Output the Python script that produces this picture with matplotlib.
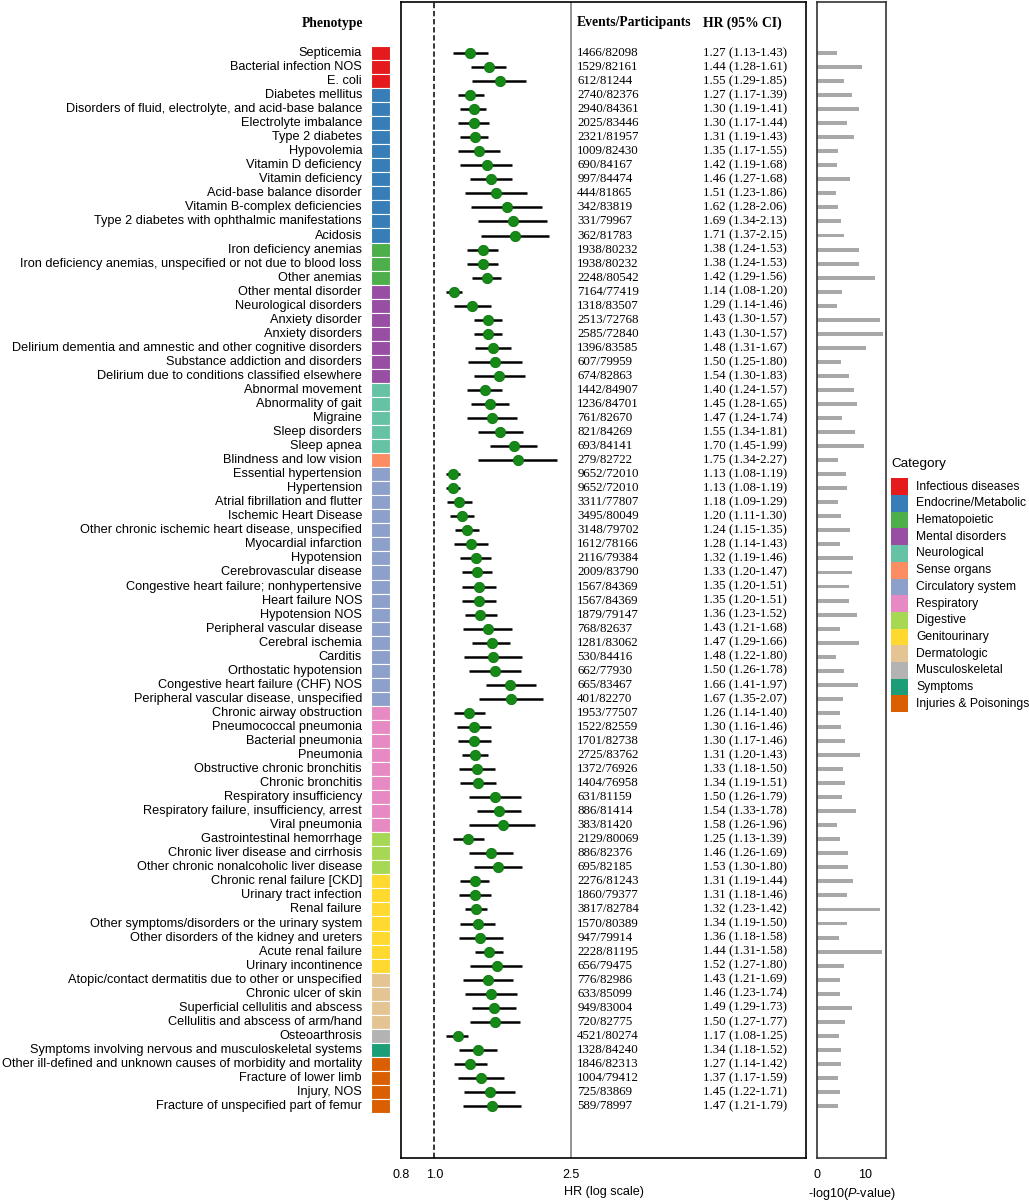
import matplotlib
matplotlib.use('Agg')
import matplotlib.pyplot as plt
import matplotlib.transforms as mtrans
from matplotlib.patches import Rectangle
from matplotlib.ticker import NullLocator
import numpy as np

plt.rcParams['font.family'] = ['Liberation Sans', 'DejaVu Sans']
plt.rcParams['mathtext.fontset'] = 'custom'
plt.rcParams['mathtext.it'] = 'Liberation Sans:italic'
plt.rcParams['mathtext.rm'] = 'Liberation Sans'

# ---------------- data ----------------
category_names = ['Infectious diseases', 'Endocrine/Metabolic', 'Hematopoietic', 'Mental disorders',
                  'Neurological', 'Sense organs', 'Circulatory system', 'Respiratory', 'Digestive',
                  'Genitourinary', 'Dermatologic', 'Musculoskeletal', 'Symptoms', 'Injuries & Poisonings']
category_colors = ['#E41A1C', '#377EB8', '#4DAF4A', '#984EA3', '#66C2A5', '#FC8D62', '#8DA0CB',
                   '#E78AC3', '#A6D854', '#FFD92F', '#E5C494', '#B3B3B3', '#1B9E77', '#D95F02']
category_counts = [3, 11, 3, 7, 5, 1, 17, 9, 3, 7, 4, 1, 1, 4]

phenotypes = [
    'Septicemia', 'Bacterial infection NOS', 'E. coli',
    'Diabetes mellitus', 'Disorders of fluid, electrolyte, and acid-base balance', 'Electrolyte imbalance',
    'Type 2 diabetes', 'Hypovolemia', 'Vitamin D deficiency', 'Vitamin deficiency', 'Acid-base balance disorder',
    'Vitamin B-complex deficiencies', 'Type 2 diabetes with ophthalmic manifestations', 'Acidosis',
    'Iron deficiency anemias', 'Iron deficiency anemias, unspecified or not due to blood loss', 'Other anemias',
    'Other mental disorder', 'Neurological disorders', 'Anxiety disorder', 'Anxiety disorders',
    'Delirium dementia and amnestic and other cognitive disorders', 'Substance addiction and disorders',
    'Delirium due to conditions classified elsewhere',
    'Abnormal movement', 'Abnormality of gait', 'Migraine', 'Sleep disorders', 'Sleep apnea',
    'Blindness and low vision',
    'Essential hypertension', 'Hypertension', 'Atrial fibrillation and flutter', 'Ischemic Heart Disease',
    'Other chronic ischemic heart disease, unspecified', 'Myocardial infarction', 'Hypotension',
    'Cerebrovascular disease', 'Congestive heart failure; nonhypertensive', 'Heart failure NOS',
    'Hypotension NOS', 'Peripheral vascular disease', 'Cerebral ischemia', 'Carditis',
    'Orthostatic hypotension', 'Congestive heart failure (CHF) NOS', 'Peripheral vascular disease, unspecified',
    'Chronic airway obstruction', 'Pneumococcal pneumonia', 'Bacterial pneumonia', 'Pneumonia',
    'Obstructive chronic bronchitis', 'Chronic bronchitis', 'Respiratory insufficiency',
    'Respiratory failure, insufficiency, arrest', 'Viral pneumonia',
    'Gastrointestinal hemorrhage', 'Chronic liver disease and cirrhosis', 'Other chronic nonalcoholic liver disease',
    'Chronic renal failure [CKD]', 'Urinary tract infection', 'Renal failure',
    'Other symptoms/disorders or the urinary system', 'Other disorders of the kidney and ureters',
    'Acute renal failure', 'Urinary incontinence',
    'Atopic/contact dermatitis due to other or unspecified', 'Chronic ulcer of skin',
    'Superficial cellulitis and abscess', 'Cellulitis and abscess of arm/hand',
    'Osteoarthrosis',
    'Symptoms involving nervous and musculoskeletal systems',
    'Other ill-defined and unknown causes of morbidity and mortality', 'Fracture of lower limb',
    'Injury, NOS', 'Fracture of unspecified part of femur']

events = [1466, 1529, 612, 2740, 2940, 2025, 2321, 1009, 690, 997, 444, 342, 331, 362,
          1938, 1938, 2248, 7164, 1318, 2513, 2585, 1396, 607, 674, 1442, 1236, 761, 821, 693,
          279, 9652, 9652, 3311, 3495, 3148, 1612, 2116, 2009, 1567, 1567, 1879, 768, 1281, 530,
          662, 665, 401, 1953, 1522, 1701, 2725, 1372, 1404, 631, 886, 383, 2129, 886, 695,
          2276, 1860, 3817, 1570, 947, 2228, 656, 776, 633, 949, 720, 4521, 1328, 1846, 1004,
          725, 589]
participants = [82098, 82161, 81244, 82376, 84361, 83446, 81957, 82430, 84167, 84474, 81865, 83819,
                79967, 81783, 80232, 80232, 80542, 77419, 83507, 72768, 72840, 83585, 79959, 82863,
                84907, 84701, 82670, 84269, 84141, 82722, 72010, 72010, 77807, 80049, 79702, 78166,
                79384, 83790, 84369, 84369, 79147, 82637, 83062, 84416, 77930, 83467, 82270, 77507,
                82559, 82738, 83762, 76926, 76958, 81159, 81414, 81420, 80069, 82376, 82185, 81243,
                79377, 82784, 80389, 79914, 81195, 79475, 82986, 85099, 83004, 82775, 80274, 84240,
                82313, 79412, 83869, 78997]
hr = [1.27, 1.44, 1.55, 1.27, 1.30, 1.30, 1.31, 1.35, 1.42, 1.46, 1.51, 1.62, 1.69, 1.71,
      1.38, 1.38, 1.42, 1.14, 1.29, 1.43, 1.43, 1.48, 1.50, 1.54, 1.40, 1.45, 1.47, 1.55, 1.70,
      1.75, 1.13, 1.13, 1.18, 1.20, 1.24, 1.28, 1.32, 1.33, 1.35, 1.35, 1.36, 1.43, 1.47, 1.48,
      1.50, 1.66, 1.67, 1.26, 1.30, 1.30, 1.31, 1.33, 1.34, 1.50, 1.54, 1.58, 1.25, 1.46, 1.53,
      1.31, 1.31, 1.32, 1.34, 1.36, 1.44, 1.52, 1.43, 1.46, 1.49, 1.50, 1.17, 1.34, 1.27, 1.37,
      1.45, 1.47]
ci_low = [1.13, 1.28, 1.29, 1.17, 1.19, 1.17, 1.19, 1.17, 1.19, 1.27, 1.23, 1.28, 1.34, 1.37,
          1.24, 1.24, 1.29, 1.08, 1.14, 1.30, 1.30, 1.31, 1.25, 1.30, 1.24, 1.28, 1.24, 1.34, 1.45,
          1.34, 1.08, 1.08, 1.09, 1.11, 1.15, 1.14, 1.19, 1.20, 1.20, 1.20, 1.23, 1.21, 1.29, 1.22,
          1.26, 1.41, 1.35, 1.14, 1.16, 1.17, 1.20, 1.18, 1.19, 1.26, 1.33, 1.26, 1.13, 1.26, 1.30,
          1.19, 1.18, 1.23, 1.19, 1.18, 1.31, 1.27, 1.21, 1.23, 1.29, 1.27, 1.08, 1.18, 1.14, 1.17,
          1.22, 1.21]
ci_high = [1.43, 1.61, 1.85, 1.39, 1.41, 1.44, 1.43, 1.55, 1.68, 1.68, 1.86, 2.06, 2.13, 2.15,
           1.53, 1.53, 1.56, 1.20, 1.46, 1.57, 1.57, 1.67, 1.80, 1.83, 1.57, 1.65, 1.74, 1.81, 1.99,
           2.27, 1.19, 1.19, 1.29, 1.30, 1.35, 1.43, 1.46, 1.47, 1.51, 1.51, 1.52, 1.68, 1.66, 1.80,
           1.78, 1.97, 2.07, 1.40, 1.46, 1.46, 1.43, 1.50, 1.51, 1.79, 1.78, 1.96, 1.39, 1.69, 1.80,
           1.44, 1.46, 1.42, 1.50, 1.58, 1.58, 1.80, 1.69, 1.74, 1.73, 1.77, 1.25, 1.52, 1.42, 1.59,
           1.71, 1.79]
neg_log10_p = [4.1, 9.3, 5.7, 7.4, 8.8, 6.2, 7.8, 4.4, 4.2, 6.8, 4.0,
               4.3, 5.1, 5.6, 8.8, 8.8, 12.2, 5.2, 4.2, 13.1, 13.7, 10.2, 5.0, 6.7, 7.7, 8.3, 5.2,
               8.0, 9.9, 4.4, 6.1, 6.2,
               4.3, 5.1, 6.8, 4.7, 7.5, 7.4, 6.7, 6.7, 8.4, 4.9, 8.75, 4.0, 5.6, 8.6, 5.5, 4.9,
               5.1, 5.8, 9.0, 5.5, 5.8, 5.3,
               8.1, 4.2, 4.9, 6.5, 6.5, 7.5, 6.3, 13.1, 6.3, 4.5, 13.6, 5.7, 4.9, 4.9, 7.3, 5.8,
               4.5, 5.1, 5.0, 4.4, 4.9, 4.3]
hr_ticks = [0.8, 1.0, 2.5]
p_ticks = [0, 10]

# ---------------- layout ----------------
W, H = 1029, 1200
fig = plt.figure(figsize=(W / 100, H / 100), dpi=100)
bot = 1 - 1158 / H
top = 1 - 2 / H
ylim = (78.7, -3.63)

n = len(phenotypes)
ypos = np.arange(n)
row_colors = np.repeat(category_colors, category_counts)

# forest axes
ax = fig.add_axes([401 / W, bot, 405 / W, top - bot])
ax.set_xscale('log')
ax.set_xlim(0.8, 12.0)
ax.set_ylim(*ylim)
ax.axvline(1.0, color='black', ls=(0, (3.5, 1.8)), lw=1.1, zorder=1)
ax.axvline(2.5, color='#808080', lw=1.2, zorder=1)
ax.hlines(ypos, ci_low, ci_high, color='black', lw=1.8, zorder=2)
ax.plot(hr, ypos, 'o', color='#168a16', mec='#0f730f', mew=0.6, ms=7.4, zorder=3, ls='none')
ax.xaxis.set_minor_locator(NullLocator())
ax.set_xticks(hr_ticks)
ax.set_xticklabels([f'{t:.1f}' for t in hr_ticks])
ax.set_yticks([])
ax.tick_params(axis='x', length=0, labelsize=9, pad=8)
ax.set_xlabel('HR (log scale)', fontsize=9.1, labelpad=3.5)
for s in ax.spines.values():
    s.set_linewidth(1.2)
    s.set_color('black')

serif = ['Liberation Serif', 'DejaVu Serif']
tr = mtrans.blended_transform_factory(ax.transAxes, ax.transData)
for i in range(n):
    ax.text(0.435, ypos[i], f'{events[i]}/{participants[i]}', transform=tr, ha='left', va='center',
            fontsize=9.3, family=serif)
    ax.text(0.745, ypos[i], f'{hr[i]:.2f} ({ci_low[i]:.2f}-{ci_high[i]:.2f})', transform=tr,
            ha='left', va='center', fontsize=9.3, family=serif)
ax.text(0.435, -2.15, 'Events/Participants', transform=tr, ha='left', va='center', fontsize=9.8,
        family=serif, fontweight='bold')
ax.text(0.745, -2.15, 'HR (95% CI)', transform=tr, ha='left', va='center', fontsize=9.8,
        family=serif, fontweight='bold')

# phenotype labels
ftr = mtrans.blended_transform_factory(fig.transFigure, ax.transData)
for i in range(n):
    ax.text(362 / W, ypos[i], phenotypes[i], transform=ftr, ha='right', va='center', fontsize=9.2)
ax.text(363 / W, -2.1, 'Phenotype', transform=ftr, ha='right', va='center', fontsize=9.8,
        family=serif, fontweight='bold')

# category strip
sax = fig.add_axes([370.7 / W, bot, 19.3 / W, top - bot])
sax.barh(ypos, 1, left=0, height=1.0, color=row_colors, edgecolor='white', linewidth=0.8)
sax.set_xlim(0, 1)
sax.set_ylim(*ylim)
sax.axis('off')

# -log10 p panel
rax = fig.add_axes([817 / W, bot, 69 / W, top - bot])
rax.barh(ypos, neg_log10_p, height=0.28, color='#a8a8a8')
rax.set_xlim(0, 14.4)
rax.set_ylim(*ylim)
rax.set_yticks([])
rax.set_xticks(p_ticks)
rax.tick_params(axis='x', length=0, labelsize=9, pad=8)
rax.set_xlabel(r'-log10($\mathit{P}$-value)', fontsize=9.1, labelpad=3.5)
for s in rax.spines.values():
    s.set_linewidth(1.2)
    s.set_color('#333333')

# legend (drawn as a stacked column of swatches with labels)
leg_x0, leg_y0, leg_step = 891, 486.7, 16.7
fig.text(leg_x0 / W, 1 - 464 / H, 'Category', ha='left', va='center', fontsize=9.7)
for k, (name, col) in enumerate(zip(category_names, category_colors)):
    yc = leg_y0 + k * leg_step
    fig.patches.append(Rectangle((leg_x0 / W, 1 - (yc + leg_step / 2) / H), 16.5 / W, leg_step / H,
                                 transform=fig.transFigure, facecolor=col, edgecolor='none'))
    fig.text(916 / W, 1 - yc / H, name, ha='left', va='center', fontsize=8.7)

fig.savefig('out.png', dpi=100)
